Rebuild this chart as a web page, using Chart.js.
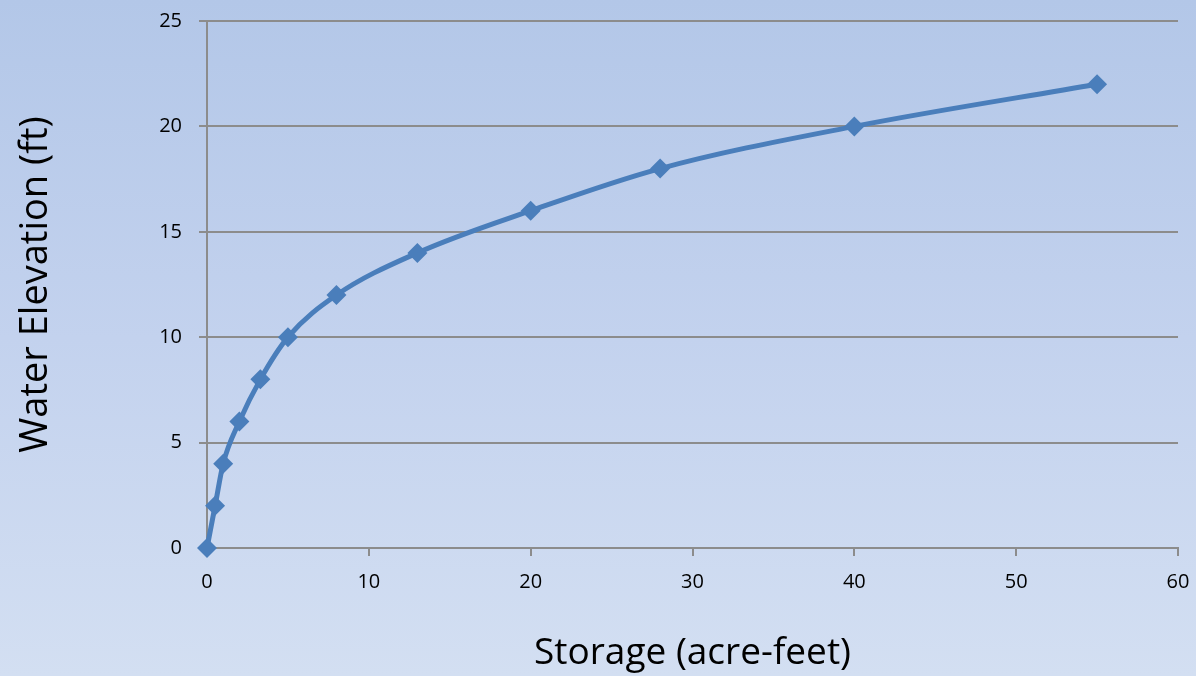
<!DOCTYPE html>
<html>
<head>
<meta charset="utf-8">
<script src="https://cdn.jsdelivr.net/npm/chart.js@4"></script>
<style>
    html, body { margin: 0; padding: 0; }
    body {
        width: 1196px; height: 676px; overflow: hidden;
        background: linear-gradient(to bottom, #b3c7e8 0%, #c3d2ee 50%, #d3dff2 100%);
    }
    #wrap { width: 1196px; height: 676px; position: relative; }
</style>
</head>
<body>
<div id="wrap"><canvas id="storageChart"></canvas></div>
<script>
// storage (acre-feet) vs water elevation (ft)
const storage = [0, 0.5, 1, 2, 3.3, 5, 8, 13, 20, 28, 40, 55];
const elevation = [0, 2, 4, 6, 8, 10, 12, 14, 16, 18, 20, 22];
const xTicks = [0, 10, 20, 30, 40, 50, 60];
const yTicks = [0, 5, 10, 15, 20, 25];

const lineBlue = '#4a7ebb';
const gridGray = '#8c8c8c';
const fontFamily = "'Open Sans', 'Noto Sans', sans-serif";

const points = storage.map((s, i) => ({ x: s, y: elevation[i] }));

const ctx = document.getElementById('storageChart').getContext('2d');
const chart = new Chart(ctx, {
    type: 'scatter',
    data: {
        datasets: [{
            data: points,
            showLine: true,
            clip: false,
            borderColor: lineBlue,
            backgroundColor: lineBlue,
            borderWidth: 5,
            tension: 0.4,
            cubicInterpolationMode: 'monotone',
            pointStyle: 'rectRot',
            pointRadius: 10,
            pointHoverRadius: 10,
            pointBorderWidth: 0
        }]
    },
    options: {
        responsive: true,
        maintainAspectRatio: false,
        animation: false,
        layout: { padding: { left: 0, top: 21, right: 18, bottom: 0 } },
        plugins: { legend: { display: false }, tooltip: { enabled: false } },
        scales: {
            x: {
                type: 'linear',
                min: 0, max: 60,
                afterBuildTicks: axis => { axis.ticks = xTicks.map(v => ({ value: v })); },
                afterFit: axis => { axis.height = 128; axis.paddingLeft = 0; axis.paddingRight = 0; },
                grid: { drawOnChartArea: false, color: gridGray, lineWidth: 2, tickLength: 8 },
                border: { color: gridGray, width: 2 },
                ticks: { color: '#000', font: { family: fontFamily, size: 20 }, padding: 14 },
                title: {
                    display: true, text: 'Storage (acre-feet)', color: '#000',
                    font: { family: fontFamily, size: 37 }, padding: { top: 0, bottom: 0 }
                }
            },
            y: {
                type: 'linear',
                min: 0, max: 25,
                afterBuildTicks: axis => { axis.ticks = yTicks.map(v => ({ value: v })); },
                afterFit: axis => { axis.width = 207; axis.paddingTop = 0; axis.paddingBottom = 0; },
                grid: { color: gridGray, lineWidth: 2, tickLength: 8 },
                border: { color: gridGray, width: 2 },
                ticks: { color: '#000', font: { family: fontFamily, size: 20 }, padding: 17 },
                title: {
                    display: true, text: 'Water Elevation (ft)', color: '#000',
                    font: { family: fontFamily, size: 38 }, padding: { top: 13, bottom: 0 }
                }
            }
        }
    }
});
</script>
</body>
</html>
